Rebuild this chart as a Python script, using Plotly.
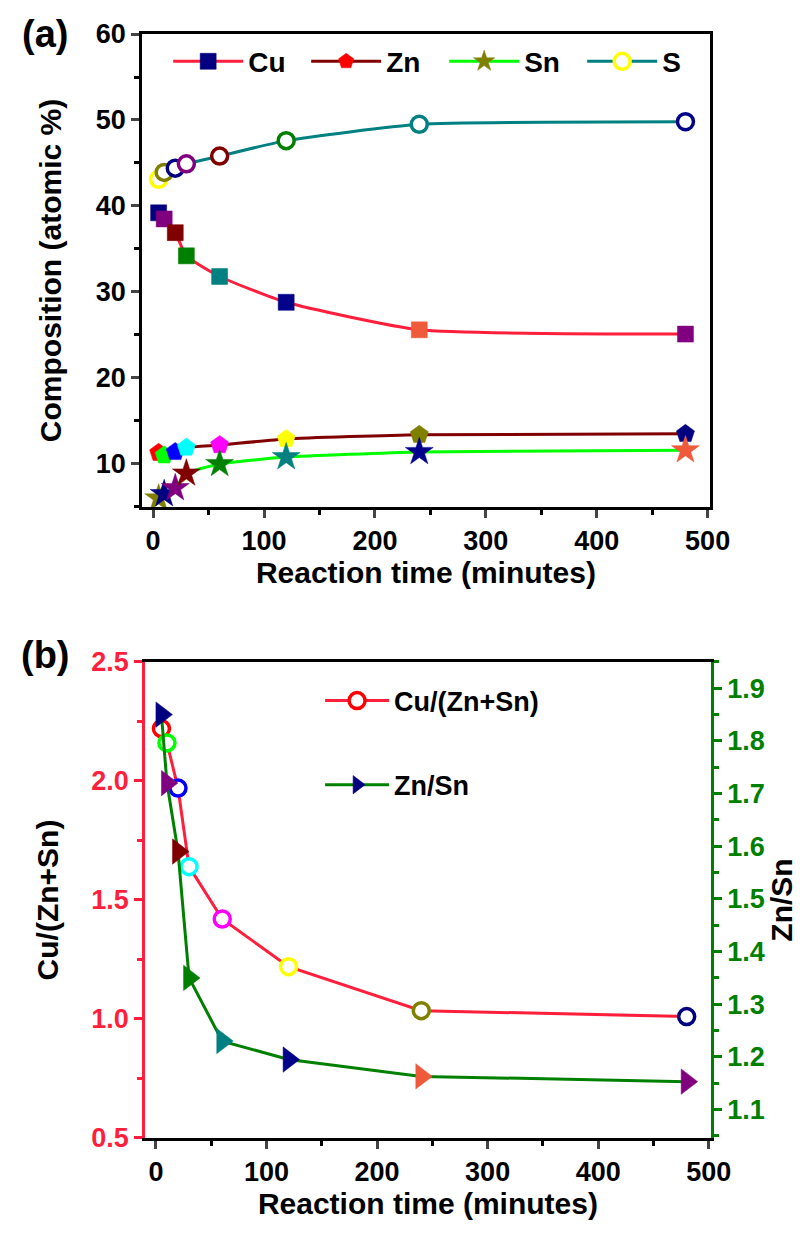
import plotly.graph_objects as go

# ---------------- data ----------------
time_min = [5, 10, 20, 30, 60, 120, 240, 480]

cu_at = [39.2, 38.5, 36.9, 34.2, 31.8, 28.8, 25.6, 25.1]
zn_at = [11.3, 11.0, 11.4, 11.9, 12.2, 12.9, 13.4, 13.5]
sn_at = [6.0, 6.5, 7.2, 8.9, 10.0, 10.8, 11.4, 11.6]
s_at = [43.1, 43.9, 44.4, 44.9, 45.8, 47.6, 49.5, 49.8]

cu_ratio = [2.22, 2.16, 1.97, 1.64, 1.42, 1.22, 1.035, 1.01]
znsn_ratio = [1.85, 1.72, 1.59, 1.35, 1.23, 1.195, 1.163, 1.153]

x_ticks = [0, 100, 200, 300, 400, 500]

# ---------------- colours ----------------
NAVY, PURPLE, WINE, DGREEN, TEAL, ROYAL, ORANGE = (
    "#000080", "#800080", "#800000", "#008000", "#008080", "#00008b", "#ee5a3a")
OLIVE, RED, LIME, BLUE, CYAN, MAGENTA, YELLOW = (
    "#808000", "#ff0000", "#00ff00", "#0000ff", "#00ffff", "#ff00ff", "#ffff00")

cu_cols = [NAVY, PURPLE, WINE, DGREEN, TEAL, ROYAL, ORANGE, PURPLE]
zn_cols = [RED, LIME, BLUE, CYAN, MAGENTA, YELLOW, OLIVE, NAVY]
sn_cols = [OLIVE, NAVY, PURPLE, WINE, DGREEN, TEAL, ROYAL, ORANGE]
s_cols = [YELLOW, OLIVE, NAVY, PURPLE, WINE, DGREEN, TEAL, ROYAL]
ratio_cols = [RED, LIME, BLUE, CYAN, MAGENTA, YELLOW, OLIVE, NAVY]
znsn_cols = [NAVY, PURPLE, WINE, DGREEN, TEAL, ROYAL, ORANGE, PURPLE]

LINE_RED = "#ff1f3d"
FONT = "Liberation Sans, Arial, sans-serif"

fig = go.Figure()

# ---------------- panel (a) ----------------
def add_a(name, y, line_col, sym, mcols, size, open_marker=False):
    if open_marker:
        marker = dict(symbol=sym, size=size, color="white",
                      line=dict(color=mcols, width=3.5))
    else:
        marker = dict(symbol=sym, size=size, color=mcols,
                      line=dict(color=mcols, width=0.5))
    fig.add_trace(go.Scatter(
        x=time_min, y=y, name=name, mode="lines+markers",
        line=dict(color=line_col, width=3, shape="spline", smoothing=0.5),
        marker=marker, xaxis="x", yaxis="y", legend="legend"))

add_a("Cu", cu_at, LINE_RED, "square", cu_cols, 16)
add_a("Zn", zn_at, WINE, "pentagon", zn_cols, 19)
add_a("Sn", sn_at, LIME, "star", sn_cols, 21)
add_a("S", s_at, TEAL, "circle", s_cols, 16, open_marker=True)

# ---------------- panel (b) ----------------
fig.add_trace(go.Scatter(
    x=time_min, y=cu_ratio, name="Cu/(Zn+Sn)", mode="lines+markers",
    line=dict(color=LINE_RED, width=3),
    marker=dict(symbol="circle", size=16, color="white",
                line=dict(color=ratio_cols, width=3.5)),
    xaxis="x2", yaxis="y2", legend="legend2", legendgroup="g1"))
fig.add_trace(go.Scatter(
    x=time_min, y=znsn_ratio, name="Zn/Sn", mode="lines+markers",
    line=dict(color=DGREEN, width=3),
    marker=dict(symbol="triangle-right", size=22, color=znsn_cols,
                line=dict(color=znsn_cols, width=0.5)),
    xaxis="x2", yaxis="y3", legend="legend2", legendgroup="g2"))

TICK_SIZE = 27
tickfont = dict(family=FONT, size=TICK_SIZE, color="black", weight="bold")
titlefont = dict(family=FONT, size=30, color="black", weight="bold")

common_x = dict(
    range=[-10, 502], tickvals=x_ticks, ticks="outside", ticklen=8, tickwidth=2.5,
    showline=True, linewidth=2.5, linecolor="black", mirror=True,
    showgrid=False, zeroline=False, tickfont=tickfont,
    minor=dict(ticks="outside", ticklen=5, tickwidth=2.5, dtick=50, tick0=0,
               tickcolor="black", showgrid=False),
    title=dict(text="Reaction time (minutes)", font=titlefont, standoff=2))

fig.update_layout(
    width=811, height=1233,
    margin=dict(l=134, r=108, t=26, b=103),
    paper_bgcolor="white", plot_bgcolor="white",
    xaxis=dict(domain=[0, 0.998], anchor="y", **common_x),
    yaxis=dict(domain=[0.5716, 1], anchor="x", range=[5, 60], dtick=10, tick0=0,
               ticks="outside", ticklen=8, tickwidth=2.5,
               showline=True, linewidth=2.5, linecolor="black", mirror=True,
               showgrid=False, zeroline=False, tickfont=tickfont,
               minor=dict(ticks="outside", ticklen=5, tickwidth=2.5, dtick=5,
                          tick0=0, tickcolor="black", showgrid=False),
               title=dict(text="Composition (atomic %)", font=titlefont, standoff=26)),
    xaxis2=dict(domain=[0.005, 1], anchor="y2", **common_x),
    yaxis2=dict(domain=[0, 0.4312], anchor="x2", range=[0.5, 2.5], dtick=0.5, tick0=0,
                tickformat=".1f",
                ticks="outside", ticklen=8, tickwidth=2.5, tickcolor=LINE_RED,
                showline=True, linewidth=2.5, linecolor=LINE_RED,
                showgrid=False, zeroline=False,
                tickfont=dict(family=FONT, size=TICK_SIZE, color=LINE_RED, weight="bold"),
                minor=dict(ticks="outside", ticklen=5, tickwidth=2.5, dtick=0.25,
                           tick0=0, tickcolor=LINE_RED, showgrid=False),
                title=dict(text="Cu/(Zn+Sn)", font=titlefont, standoff=24)),
    yaxis3=dict(overlaying="y2", side="right", anchor="x2",
                range=[1.046, 1.95], dtick=0.1, tick0=0, tickformat=".1f",
                ticks="outside", ticklen=8, tickwidth=2.5, tickcolor=DGREEN,
                showline=True, linewidth=2.5, linecolor=DGREEN,
                showgrid=False, zeroline=False,
                tickfont=dict(family=FONT, size=TICK_SIZE, color=DGREEN, weight="bold"),
                minor=dict(ticks="outside", ticklen=5, tickwidth=2.5, dtick=0.05,
                           tick0=0, tickcolor=DGREEN, showgrid=False),
                title=dict(text="Zn/Sn", font=titlefont, standoff=4)),
    legend=dict(orientation="h", x=0.046, y=0.975, xanchor="left", yanchor="middle",
                bgcolor="rgba(0,0,0,0)", itemwidth=70,
                entrywidth=53, entrywidthmode="pixels",
                font=dict(family=FONT, size=28, color="black", weight="bold")),
    legend2=dict(orientation="v", x=0.313, y=0.418, xanchor="left", yanchor="top",
                 bgcolor="rgba(0,0,0,0)", itemwidth=64, traceorder="grouped",
                 tracegroupgap=46,
                 font=dict(family=FONT, size=27, color="black", weight="bold")),
    annotations=[
        dict(text="(a)", xref="paper", yref="paper", x=-0.17, y=1.021,
             showarrow=False, xanchor="center", yanchor="top",
             font=dict(family=FONT, size=38, color="black", weight="bold")),
        dict(text="(b)", xref="paper", yref="paper", x=-0.17, y=0.458,
             showarrow=False, xanchor="center", yanchor="top",
             font=dict(family=FONT, size=38, color="black", weight="bold")),
    ],
)

fig.write_html("out.html")
